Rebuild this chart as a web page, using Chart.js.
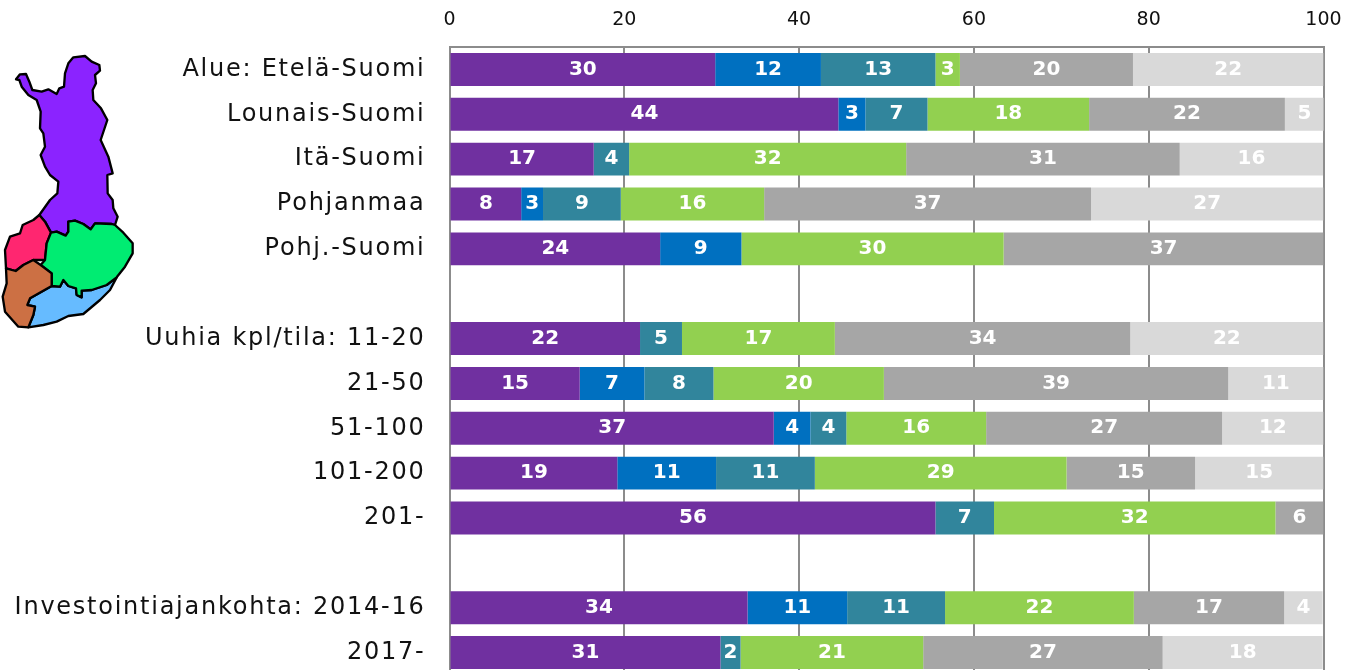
<!DOCTYPE html>
<html>
<head>
<meta charset="utf-8">
<title>Investoinnit</title>
<script src="https://cdn.jsdelivr.net/npm/chart.js@4"></script>
<style>
    html, body { margin: 0; padding: 0; background: #fff; overflow: hidden; }
    #wrap { position: relative; width: 1346px; height: 670px; overflow: hidden; }
    #wrap canvas { position: absolute; left: 0; top: 0; }
    #map { position: absolute; left: 0; top: 40px; width: 150px; height: 300px; }
    #map path { stroke: #000; stroke-width: 7; stroke-linejoin: round; }
</style>
</head>
<body>
<div id="wrap">
    <canvas id="chart" width="1346" height="680"></canvas>
    <svg id="map" viewBox="0 0 450 900">
        <path fill="#8B23FF" d="M48,118 60,103 78,102 88,125 97,150 125,155 145,148 170,162 178,145 192,140 195,100 205,70 220,52 255,48 275,65 298,75 300,92 285,105 288,130 278,150 280,180 303,205 322,240 302,300 325,350 338,400 322,405 323,460 338,480 340,505 353,530 345,555 335,552 285,550 272,568 250,552 225,542 205,545 205,575 197,587 170,575 153,578 135,545 118,525 150,480 172,460 175,425 150,405 135,380 122,345 135,320 130,280 120,265 122,215 110,180 85,165 65,140 58,120Z"/>
        <path fill="#FF2670" d="M118,525 135,545 153,578 140,610 135,660 100,660 70,675 47,693 18,685 15,630 30,590 60,580 68,555 100,540Z"/>
        <path fill="#66BBFF" d="M350,712 330,750 300,780 250,822 205,828 170,845 130,855 85,862 100,825 105,800 82,795 90,775 155,738 180,740 190,720 205,738 228,745 230,765 245,772 245,752 275,750 320,735Z"/>
        <path fill="#00EC72" d="M153,578 170,575 197,587 205,575 205,545 225,542 250,552 272,568 285,550 335,552 345,555 370,578 398,610 398,640 375,680 350,712 320,735 275,750 245,752 245,772 230,765 228,745 205,738 190,720 180,740 155,738 155,700 122,675 135,660 140,610Z"/>
        <path fill="#CC7044" d="M122,675 155,700 155,738 90,775 82,795 105,800 100,825 85,862 55,860 15,815 8,770 20,730 18,685 47,693 70,675 100,660Z"/>
    </svg>
</div>
<script>
// rows, blank ones are the gaps between the groups
const categories = ['Alue: Etelä-Suomi', 'Lounais-Suomi', 'Itä-Suomi', 'Pohjanmaa', 'Pohj.-Suomi', '',
    'Uuhia kpl/tila: 11-20', '21-50', '51-100', '101-200', '201-', '',
    'Investointiajankohta: 2014-16', '2017-'];

const seriesA = [30.4, 44.49, 16.5, 8.2, 24.1, null, 21.8, 14.9, 37.1, 19.2, 55.6, null, 34.1, 31.0];
const seriesB = [12.1, 3.1, null, 2.5, 9.3, null, null, 7.4, 4.2, 11.3, null, null, 11.4, null];
const seriesC = [13.1, 7.1, 4.05, 8.9, null, null, 4.8, 7.9, 4.1, 11.3, 6.7, null, 11.2, 2.3];
const seriesD = [2.8, 18.49, 31.7, 16.4, 30.0, null, 17.49, 19.5, 16.0, 28.8, 32.2, null, 21.6, 20.9];
const seriesE = [19.8, 22.4, 31.3, 37.4, 36.6, null, 33.8, 39.4, 27.0, 14.7, 5.5, null, 17.2, 27.4];
const seriesF = [21.8, 4.5, 16.4, 26.6, null, null, 22.1, 10.9, 11.6, 14.7, null, null, 4.4, 18.3];

const seriesColors = ['#7030A0', '#0070C0', '#31859C', '#92D050', '#A6A6A6', '#D9D9D9'];
const xTicks = [0, 20, 40, 60, 80, 100];

// y labels are wider than the font, so they get letter spacing; x ticks are on z 1 and drawn after the reset
const labelSpacing = {
    id: 'labelSpacing',
    beforeDraw(chart) { chart.ctx.letterSpacing = '1.75px'; },
    beforeDatasetsDraw(chart) { chart.ctx.letterSpacing = '0px'; }
};

// white rounded numbers in the middle of the segments
const segmentLabels = {
    id: 'segmentLabels',
    afterDatasetsDraw(chart) {
        const ctx = chart.ctx;
        ctx.save();
        ctx.font = 'bold 20px "DejaVu Sans"';
        ctx.fillStyle = '#fff';
        ctx.textAlign = 'center';
        ctx.textBaseline = 'middle';
        chart.data.datasets.forEach((ds, i) => {
            chart.getDatasetMeta(i).data.forEach((bar, j) => {
                if (ds.data[j] === null) return;
                const p = bar.getProps(['x', 'y', 'base'], true);
                ctx.fillText(Math.round(ds.data[j]), (p.x + p.base) / 2, p.y);
            });
        });
        ctx.restore();
    }
};

document.addEventListener('DOMContentLoaded', function() {
    const canvas = document.getElementById('chart');
    const allSeries = [seriesA, seriesB, seriesC, seriesD, seriesE, seriesF];

    new Chart(canvas.getContext('2d'), {
        type: 'bar',
        data: {
            labels: categories,
            datasets: allSeries.map((values, i) => ({
                data: values,
                backgroundColor: seriesColors[i],
                borderWidth: 0,
                barPercentage: 33 / 45,
                categoryPercentage: 1
            }))
        },
        options: {
            indexAxis: 'y',
            responsive: false,
            animation: false,
            layout: { padding: { top: 0, right: 22.5, bottom: 5, left: 0 } },
            plugins: { legend: { display: false }, tooltip: { enabled: false } },
            scales: {
                x: {
                    position: 'top',
                    stacked: true,
                    min: 0,
                    max: 100,
                    afterFit: scale => {
                        scale.height = 47;
                        // no extra room for the half of the last tick label
                        scale.paddingLeft = 0;
                        scale.paddingRight = 0;
                    },
                    afterBuildTicks: scale => { scale.ticks = xTicks.map(v => ({ value: v })); },
                    grid: { color: '#8c8c8c', lineWidth: 2, drawTicks: false },
                    border: { color: '#8c8c8c', width: 2 },
                    ticks: { color: '#111', font: { family: 'DejaVu Sans', size: 19 }, padding: 16, maxRotation: 0, z: 1 }
                },
                y: {
                    stacked: true,
                    afterFit: scale => {
                        scale.width = 449.5;
                        scale.paddingTop = 0;
                        scale.paddingBottom = 0;
                    },
                    grid: { display: false },
                    border: { color: '#8c8c8c', width: 2 },
                    ticks: { color: '#111', font: { family: 'DejaVu Sans', size: 24 }, padding: 16, autoSkip: false }
                }
            }
        },
        plugins: [labelSpacing, segmentLabels]
    });
});
</script>
</body>
</html>
